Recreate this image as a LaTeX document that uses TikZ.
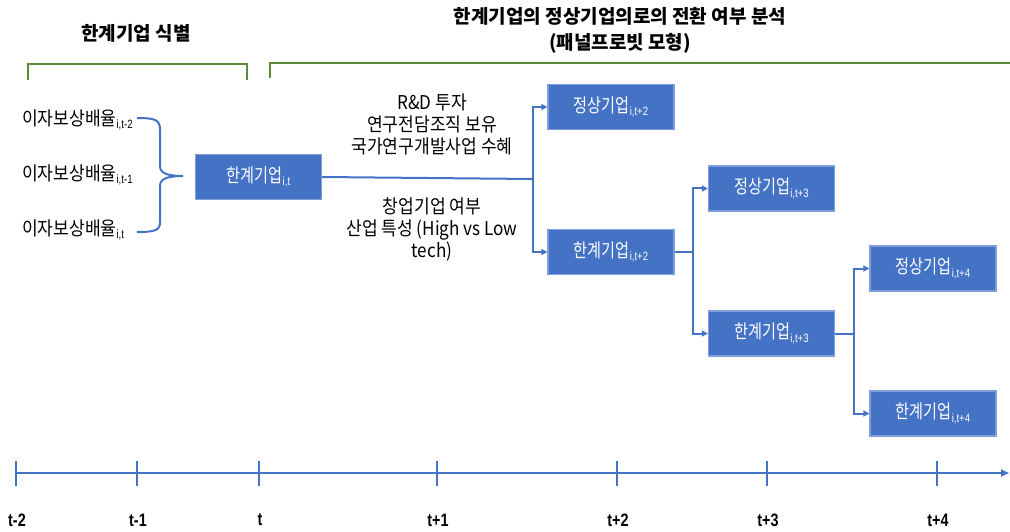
\documentclass[tikz,border=0pt]{standalone}
\usepackage{fontspec}
\setmainfont{Noto Sans CJK KR}
\newfontfamily\krn{Noto Sans CJK KR}[FakeStretch=0.8]
\newfontfamily\krw{Noto Sans CJK KR}[FakeStretch=0.9]
\newfontfamily\subf{Liberation Sans}[FakeStretch=0.8]
\newfontfamily\axf{Liberation Sans}[FakeStretch=0.8]
\usetikzlibrary{arrows.meta}
\definecolor{boxblue}{HTML}{4472C4}
\definecolor{boxedge}{HTML}{7F9FDB}
\definecolor{brgreen}{HTML}{5B8C3A}
\newcommand{\lsub}[1]{\raisebox{-3.5pt}{\subf\fontsize{12}{12}\selectfont #1}}
\begin{document}
\begin{tikzpicture}[x=1pt,y=-1pt,
  firm/.style={draw=boxedge, line width=1.2pt, fill=boxblue, text=white,
    minimum width=126pt, minimum height=45pt, inner sep=0pt,
    font=\krn\fontsize{19}{19}\selectfont},
  link/.style={draw=boxblue, line width=2pt},
  arr/.style={link, -{Triangle[length=6pt,width=6pt]}},
  lbl/.style={font=\krw\fontsize{19}{19}\selectfont, anchor=west, inner sep=0pt},
  note/.style={align=center, font=\krw\fontsize{19}{22}\selectfont, inner sep=0pt},
  ttl/.style={font=\bfseries\fontsize{19}{26}\selectfont, align=center, inner sep=0pt},
  bracket/.style={draw=brgreen, line width=2.5pt},
  tick/.style={draw=boxblue, line width=1.6pt},
  tlab/.style={font=\axf\bfseries\fontsize{18}{18}\selectfont, inner sep=0pt}]
\useasboundingbox (0,0) rectangle (1010,532);

% titles
\node[ttl] (t1) at (136,33) {한계기업 식별};
\node[ttl] (t2) at (620,30) {한계기업의 정상기업의로의 전환 여부 분석\\(패널프로빗 모형)};

% green brackets
\draw[bracket] (28,80) -- (28,64) -- (247,64) -- (247,80);
\draw[bracket] (270,78) -- (270,63) -- (1012,63);

% left labels
\node[lbl] (r2) at (22,120) {이자보상배율\lsub{i,t-2}};
\node[lbl] (r1) at (22,175) {이자보상배율\lsub{i,t-1}};
\node[lbl] (r0) at (22,230) {이자보상배율\lsub{i,t}};

% brace
\draw[link] (137,118) .. controls (156,118) and (160,120) .. (160,130) -- (160,166)
  .. controls (160,173) and (167,176) .. (183,176)
  .. controls (167,176) and (160,179) .. (160,186) -- (160,222)
  .. controls (160,230) and (156,232) .. (137,232);

% boxes
\node[firm] (ht) at (258.5,177) {한계기업\lsub{i,t}};
\node[firm] (n2) at (611,107) {정상기업\lsub{i,t+2}};
\node[firm] (h2) at (611,252) {한계기업\lsub{i,t+2}};
\node[firm] (n3) at (771.5,188.5) {정상기업\lsub{i,t+3}};
\node[firm] (h3) at (771.5,333.5) {한계기업\lsub{i,t+3}};
\node[firm] (n4) at (933,268.5) {정상기업\lsub{i,t+4}};
\node[firm] (h4) at (933,413.5) {한계기업\lsub{i,t+4}};

% notes
\node[note] (nt1) at (432,124) {R\&D 투자\\연구전담조직 보유\\국가연구개발사업 수혜};
\node[note] (nt2) at (432,229) {창업기업 여부\\산업 특성 (High vs Low\\tech)};

% connectors
\coordinate (j1) at (533,179);
\coordinate (j2) at (693,252);
\coordinate (j3) at (854,333.5);
\draw[link] (ht.east) -- (j1);
\draw[arr] (j1) |- (n2.west);
\draw[arr] (j1) |- (h2.west);
\draw[link] (h2.east) -- (j2);
\draw[arr] (j2) |- (n3.west);
\draw[arr] (j2) |- (h3.west);
\draw[link] (h3.east) -- (j3);
\draw[arr] (j3) |- (n4.west);
\draw[arr] (j3) |- (h4.west);

% timeline
\coordinate (a0) at (16,473);
\coordinate (a1) at (1009,473);
\draw[link, -{Triangle[length=8pt,width=7pt]}] (a0) -- (a1);
\foreach \x/\lab/\nm in {16/t-2/m2, 137/t-1/m1, 259/t/z0, 437/t+1/p1, 617/t+2/p2, 767/t+3/p3, 937/t+4/p4}{
  \draw[tick] (\x,461) -- (\x,486);
  \node[tlab] (lab\nm) at (\x+1,520) {\lab};
}
\end{tikzpicture}
\end{document}
